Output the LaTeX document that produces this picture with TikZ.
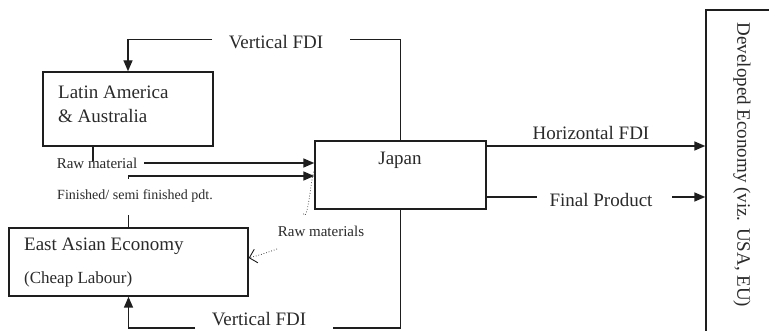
\documentclass[tikz,border=0pt]{standalone}
\usepackage{fontspec}
\setmainfont{Liberation Serif}
\usetikzlibrary{arrows.meta,calc}
\definecolor{ink}{HTML}{1E1E1E}
\definecolor{txt}{HTML}{2A2A2A}
\tikzset{
  box/.style={draw=ink, line width=1.4pt, rectangle, inner sep=0pt},
  conn/.style={draw=ink, line width=1.4pt},
  arr/.style={conn, -{Triangle[length=11pt,width=9pt]}},
  big/.style={text=txt, font=\fontsize{19}{23}\selectfont, inner sep=0pt},
  mid/.style={text=txt, font=\fontsize{15}{18}\selectfont, inner sep=0pt},
  small/.style={text=txt, font=\fontsize{14}{17}\selectfont, inner sep=0pt},
  dots/.style={draw=ink, line width=0.7pt, dotted}
}
\begin{document}
\begin{tikzpicture}[x=1pt,y=-1pt]
\useasboundingbox (0,0) rectangle (769,331);
\clip (0,0) rectangle (769,331);
\fill[white] (0,0) rectangle (769,331);

% boxes
\node[box, minimum width=170pt, minimum height=74pt] (latin) at (128,109) {};
\node[big, anchor=west, align=left, font=\fontsize{19}{24}\selectfont] (latinlbl) at (58,104)
      {Latin America\\ \& Australia};
\node[box, minimum width=239pt, minimum height=68pt] (east) at (128.5,262) {};
\node[big, anchor=west, align=left] (eastlbl) at (24,263)
      {East Asian Economy\\[10pt] {\fontsize{17}{20}\selectfont (Cheap Labour)}};
\node[box, minimum width=171pt, minimum height=68pt] (japan) at (400.5,175) {};
\node[big] (japanlbl) at (400,160) {Japan};
\node[box, minimum width=100pt, minimum height=350pt] (dev) at (756,185) {};
\node[big, rotate=-90] (devlbl) at (742,165) {Developed Economy (viz. USA, EU)};

% top vertical FDI
\coordinate (tvr) at (350,39.5);
\coordinate (tvl) at (212,39.5);
\draw[conn] (japan.north) |- (tvr);
\draw[arr] (tvl) -| (latin.north);
\node[big] (tvfdi) at (276,42) {Vertical FDI};

% raw material
\coordinate (rmtick) at (93,161);
\draw[conn] (rmtick |- latin.south) -- (rmtick);
\node[mid] (rawmat) at (97,163) {Raw material};
\coordinate (rms) at (144,163);
\draw[arr] (rms) -- (rms -| japan.west);

% finished product
\coordinate (fpa) at (128.5,215);
\coordinate (fpb) at (128.5,179);
\coordinate (fpc) at (128.5,176);
\draw[conn] (east.north) -- (fpa);
\draw[arr] (fpb) -- (fpc) -- (fpc -| japan.west);
\node[small] (finished) at (135,196) {Finished/ semi finished pdt.};

% raw materials dotted
\coordinate (rd1) at (315,174);
\coordinate (rd2) at (303,213);
\coordinate (rd3) at (277,249);
\coordinate (rd4) at (248,258);
\draw[dots] (rd1) to[out=100,in=-70] (rd2);
\draw[dots, -{Straight Barb[length=7pt,width=14pt,line width=0.9pt]}] (rd3) to[out=200,in=15] (rd4 -| east.east);
\node[mid] (rawmats) at (321,231) {Raw materials};

% bottom vertical FDI
\coordinate (bvr) at (333,328);
\coordinate (bvl) at (195,328);
\draw[conn] (japan.south) |- (bvr);
\draw[arr] (bvl) -| (east.south);
\node[big] (bvfdi) at (259,319) {Vertical FDI};

% horizontal FDI
\coordinate (hf) at (486,146);
\draw[arr] (hf) -- (hf -| dev.west);
\node[big] (hfdi) at (591,133) {Horizontal FDI};

% final product
\coordinate (fp1) at (486,197);
\coordinate (fp2) at (537,197);
\coordinate (fp3) at (672,197);
\draw[conn] (fp1) -- (fp2);
\draw[arr] (fp3) -- (fp3 -| dev.west);
\node[big] (final) at (601,200) {Final Product};
\end{tikzpicture}
\end{document}
